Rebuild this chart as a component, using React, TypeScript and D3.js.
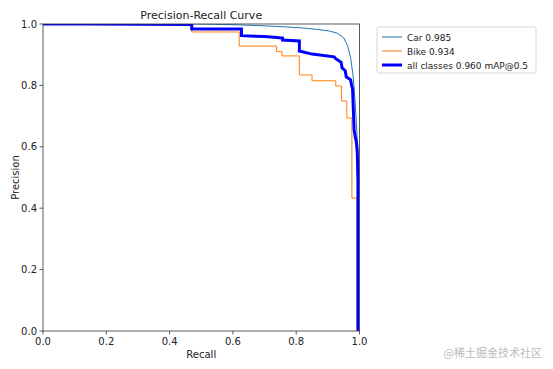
import React, { useEffect, useRef } from 'react';
import * as d3 from 'd3';

// PR curve vertices (recall, precision)
const carRecall = [0, 0.5, 0.62, 0.70, 0.76, 0.82, 0.87, 0.905, 0.93, 0.95, 0.962, 0.972, 0.98, 0.986, 0.99, 0.993, 0.995, 0.996, 1.0];
const carPrecision = [1, 1, 0.997, 0.994, 0.991, 0.987, 0.982, 0.977, 0.97, 0.955, 0.93, 0.89, 0.83, 0.75, 0.68, 0.62, 0.6, 0.0, 0.0];

const bikeRecall = [0, 0.47, 0.47, 0.62, 0.62, 0.738, 0.738, 0.755, 0.755, 0.81, 0.81, 0.85, 0.85, 0.925, 0.925, 0.943, 0.943, 0.96, 0.96, 0.976, 0.976, 0.993, 0.993];
const bikePrecision = [1, 1, 0.974, 0.974, 0.928, 0.928, 0.91, 0.91, 0.896, 0.896, 0.834, 0.834, 0.815, 0.815, 0.798, 0.798, 0.749, 0.749, 0.694, 0.694, 0.433, 0.433, 0.0];

const allRecall = [0, 0.14, 0.47, 0.47, 0.627, 0.627, 0.70, 0.738, 0.757, 0.757, 0.81, 0.81, 0.85, 0.92, 0.925, 0.942, 0.945, 0.955, 0.958, 0.972, 0.975, 0.978, 0.983, 0.987, 0.99, 0.993, 0.995, 0.995];
const allPrecision = [1, 1, 0.998, 0.984, 0.984, 0.962, 0.959, 0.956, 0.954, 0.948, 0.945, 0.912, 0.902, 0.893, 0.887, 0.875, 0.857, 0.848, 0.828, 0.818, 0.80, 0.79, 0.655, 0.63, 0.617, 0.58, 0.49, 0.0];

const xTicks = [0, 0.2, 0.4, 0.6, 0.8, 1.0];
const yTicks = [0, 0.2, 0.4, 0.6, 0.8, 1.0];

const seriesNames = ['Car 0.985', 'Bike 0.934', 'all classes 0.960 mAP@0.5'];
const seriesColors = ['#1f77b4', '#ff7f0e', '#0000ff'];
const seriesWidths = [1, 1, 3];

const W = 553;
const H = 369;
const FONT = '"DejaVu Sans", sans-serif';

export default function App() {
  const ref = useRef<SVGSVGElement | null>(null);

  useEffect(() => {
    const svg = d3.select(ref.current);
    svg.selectAll('*').remove();

    const left = 43, right = 359.5, top = 24, bottom = 331;
    const x = d3.scaleLinear().domain([0, 1]).range([left, right]);
    const y = d3.scaleLinear().domain([0, 1]).range([bottom, top]);

    svg.append('rect').attr('width', W).attr('height', H).attr('fill', '#fff');

    svg.append('clipPath').attr('id', 'plot-clip')
      .append('rect').attr('x', left).attr('y', top)
      .attr('width', right - left).attr('height', bottom - top);

    const series = [
      carRecall.map((r, i) => [r, carPrecision[i]]),
      bikeRecall.map((r, i) => [r, bikePrecision[i]]),
      allRecall.map((r, i) => [r, allPrecision[i]]),
    ];

    const line = d3.line<number[]>().x(d => x(d[0])).y(d => y(d[1]));
    const g = svg.append('g').attr('clip-path', 'url(#plot-clip)');
    series.forEach((pts, i) => {
      g.append('path')
        .attr('d', line(pts))
        .attr('fill', 'none')
        .attr('stroke', seriesColors[i])
        .attr('stroke-width', seriesWidths[i])
        .attr('stroke-linejoin', 'miter');
    });

    // spines
    svg.append('rect')
      .attr('x', left).attr('y', top)
      .attr('width', right - left).attr('height', bottom - top)
      .attr('fill', 'none').attr('stroke', '#333').attr('stroke-width', 0.8);

    // x axis
    const xa = svg.append('g').attr('font-family', FONT).attr('font-size', 10).attr('fill', '#222');
    xTicks.forEach(t => {
      xa.append('line').attr('x1', x(t)).attr('x2', x(t)).attr('y1', bottom).attr('y2', bottom + 3.5)
        .attr('stroke', '#333').attr('stroke-width', 0.8);
      xa.append('text').attr('x', x(t)).attr('y', bottom + 14).attr('text-anchor', 'middle').text(t.toFixed(1));
    });
    xa.append('text').attr('x', (left + right) / 2).attr('y', bottom + 27).attr('text-anchor', 'middle').text('Recall');

    // y axis
    const ya = svg.append('g').attr('font-family', FONT).attr('font-size', 10).attr('fill', '#222');
    yTicks.forEach(t => {
      ya.append('line').attr('x1', left - 3.5).attr('x2', left).attr('y1', y(t)).attr('y2', y(t))
        .attr('stroke', '#333').attr('stroke-width', 0.8);
      ya.append('text').attr('x', left - 6).attr('y', y(t) + 3.5).attr('text-anchor', 'end').text(t.toFixed(1));
    });
    ya.append('text')
      .attr('transform', `translate(19,${(top + bottom) / 2}) rotate(-90)`)
      .attr('text-anchor', 'middle').text('Precision');

    // title
    svg.append('text').attr('x', (left + right) / 2).attr('y', 19)
      .attr('text-anchor', 'middle').attr('font-family', FONT).attr('font-size', 11).attr('fill', '#222')
      .text('Precision-Recall Curve');

    // legend
    const lg = svg.append('g').attr('transform', 'translate(377,27)');
    lg.append('rect').attr('width', 159).attr('height', 46).attr('rx', 2)
      .attr('fill', '#fff').attr('stroke', '#ccc').attr('stroke-width', 0.8);
    seriesNames.forEach((name, i) => {
      const yy = 10 + i * 14;
      lg.append('line').attr('x1', 5).attr('x2', 25).attr('y1', yy).attr('y2', yy)
        .attr('stroke', seriesColors[i]).attr('stroke-width', seriesWidths[i]);
      lg.append('text').attr('x', 30).attr('y', yy + 3.5)
        .attr('font-family', FONT).attr('font-size', 9).attr('fill', '#222').text(name);
    });

    // watermark
    svg.append('text').attr('x', 542).attr('y', 357).attr('text-anchor', 'end')
      .attr('font-family', '"Noto Sans CJK SC", sans-serif').attr('font-size', 11).attr('fill', '#bbb')
      .text('@稀土掘金技术社区');
  }, []);

  return (
    <svg ref={ref} width={W} height={H}
      style={{ position: 'absolute', left: 0, top: 0, display: 'block' }} />
  );
}
